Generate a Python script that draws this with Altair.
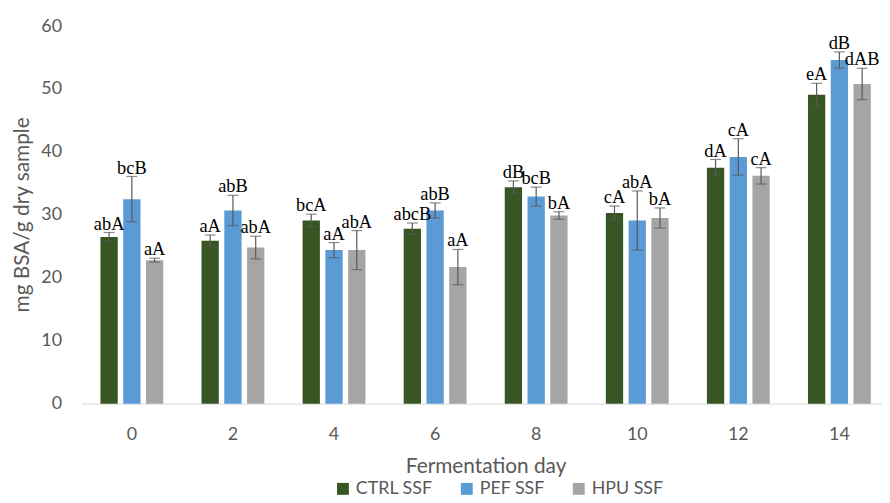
import altair as alt
import pandas as pd

days = ["0", "2", "4", "6", "8", "10", "12", "14"]
series = ["CTRL SSF", "PEF SSF", "HPU SSF"]
colors = ["#375623", "#5b9bd5", "#a5a5a5"]

ctrl = [26.5, 25.9, 29.1, 27.8, 34.4, 30.3, 37.5, 49.1]
ctrl_err = [0.7, 0.9, 1.0, 0.9, 1.0, 1.1, 1.3, 1.8]
pef = [32.5, 30.7, 24.4, 30.7, 32.9, 29.1, 39.2, 54.6]
pef_err = [3.6, 2.4, 1.2, 1.2, 1.5, 4.7, 2.9, 1.3]
hpu = [22.8, 24.8, 24.4, 21.7, 29.9, 29.5, 36.2, 50.8]
hpu_err = [0.3, 1.8, 3.1, 2.8, 0.6, 1.6, 1.3, 2.5]

letters_ctrl = ["abA", "aA", "bcA", "abcB", "dB", "cA", "dA", "eA"]
letters_pef = ["bcB", "abB", "aA", "abB", "bcB", "abA", "cA", "dB"]
letters_hpu = ["aA", "abA", "abA", "aA", "bA", "bA", "cA", "dAB"]

rows = []
for s, vals, errs, labs in zip(series, [ctrl, pef, hpu], [ctrl_err, pef_err, hpu_err],
                               [letters_ctrl, letters_pef, letters_hpu]):
    for d, v, e, l in zip(days, vals, errs, labs):
        rows.append(dict(day=d, series=s, value=v, lo=v - e, hi=v + e, label=l))
df = pd.DataFrame(rows)

grey = "#595959"

x = alt.X(
    "day:N", sort=days,
    scale=alt.Scale(range=[0, 816], paddingInner=0, paddingOuter=0),
    axis=alt.Axis(
        labelAngle=0, ticks=False, grid=False, domainColor="#d9d9d9", domainWidth=1,
        labelFont="Lato", labelFontSize=18, labelColor=grey, labelPadding=36,
        labelBaseline="alphabetic",
        title="Fermentation day", titleFont="Lato", titleFontSize=21,
        titleFontWeight="normal", titleColor=grey, titleX=408, titleY=69,
        titleAlign="center", titleBaseline="alphabetic",
    ),
)
xo = alt.XOffset("series:N", sort=series,
                 scale=alt.Scale(domain=series, paddingInner=0.24, paddingOuter=0.84))

yscale = alt.Scale(domain=[0, 60])

base = alt.Chart(df).encode(x=x, xOffset=xo)

bars = base.mark_bar().encode(
    y=alt.Y(
        "value:Q", scale=yscale,
        axis=alt.Axis(
            values=[0, 10, 20, 30, 40, 50, 60], ticks=False, domain=False, grid=False,
            labelFont="Lato", labelFontSize=18, labelColor=grey, labelPadding=20,
            title="mg BSA/g dry sample", titleFont="Lato", titleFontSize=21,
            titleFontWeight="normal", titleColor=grey, titleAngle=270,
            titleX=-53, titleY=190, titleAlign="center", titleBaseline="alphabetic",
        ),
    ),
    color=alt.Color(
        "series:N", sort=series,
        scale=alt.Scale(domain=series, range=colors),
        legend=alt.Legend(
            title=None, orient="none", legendX=255, legendY=458, direction="horizontal",
            symbolType="square", symbolSize=144, symbolStrokeWidth=0,
            labelFont="Lato", labelFontSize=18, labelColor=grey, labelOffset=4,
            columnPadding=25, padding=0,
        ),
    ),
)

rules = base.mark_rule(color=grey, strokeWidth=1.2).encode(
    y=alt.Y("lo:Q", scale=yscale), y2="hi:Q"
)
cap_lo = base.mark_tick(color=grey, size=11, thickness=1.2).encode(
    y=alt.Y("lo:Q", scale=yscale)
)
cap_hi = base.mark_tick(color=grey, size=11, thickness=1.2).encode(
    y=alt.Y("hi:Q", scale=yscale)
)
text = base.mark_text(
    font="Liberation Serif", fontSize=18.5, baseline="alphabetic", dy=-3, color="black"
).encode(y=alt.Y("hi:Q", scale=yscale), text="label:N")

chart = alt.layer(bars, rules, cap_lo, cap_hi, text).properties(
    width=808, height=381,
    autosize=alt.AutoSizeParams(type="none"),
    padding={"left": 74, "top": 16, "right": 0, "bottom": 95},
).configure_view(stroke=None)

chart.save("out.html", embed_options={"renderer": "svg", "actions": False})
